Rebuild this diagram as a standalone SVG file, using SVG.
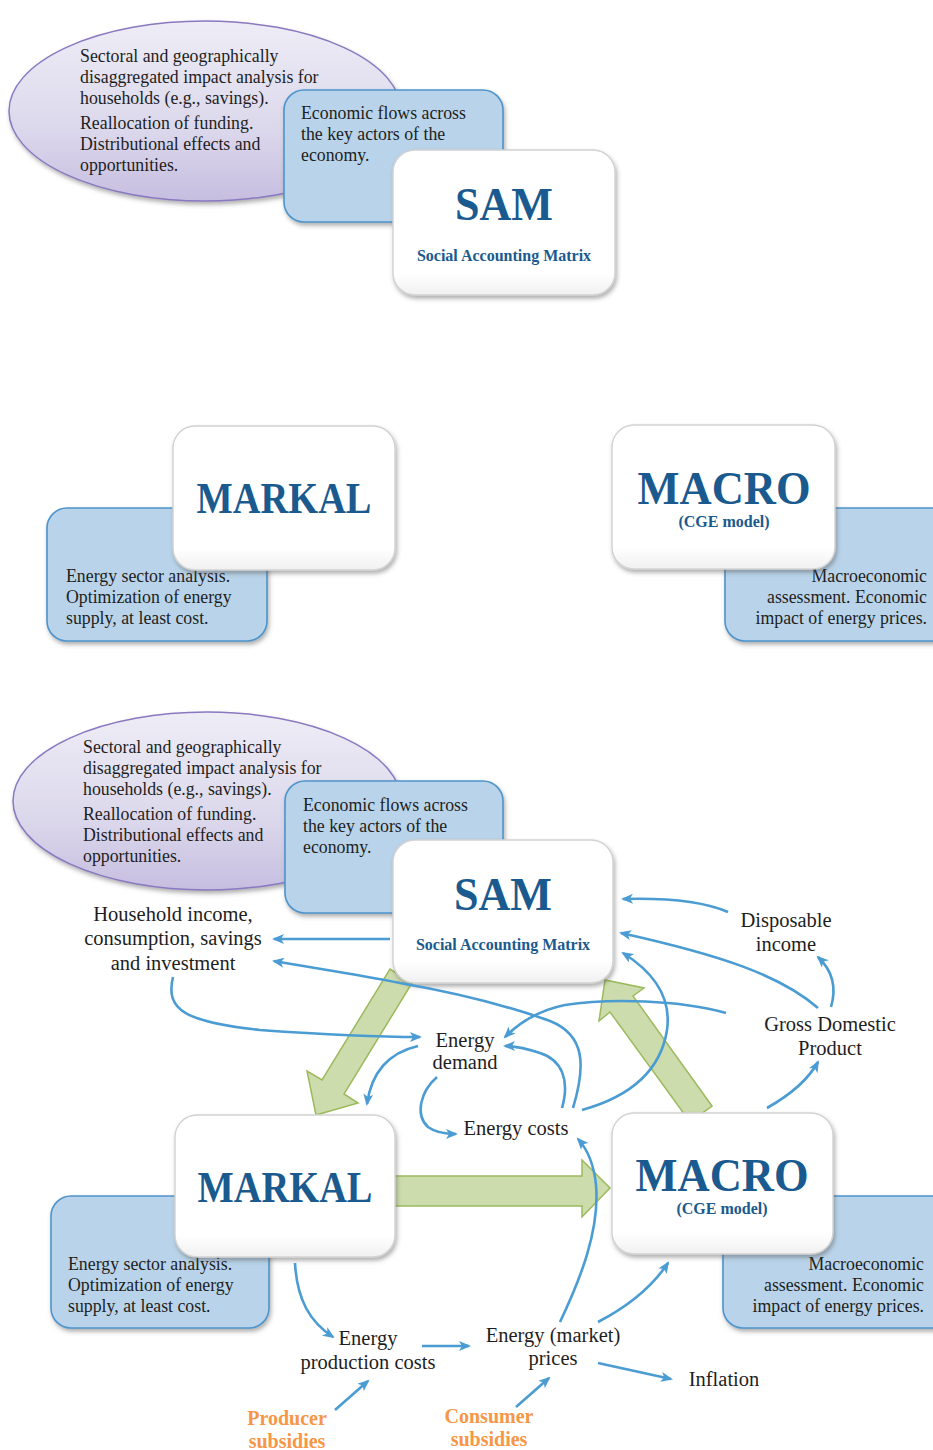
<svg xmlns="http://www.w3.org/2000/svg" width="933" height="1450" viewBox="0 0 933 1450">
  <defs>
    <linearGradient id="ellFill" x1="0" y1="0" x2="0" y2="1">
      <stop offset="0" stop-color="#eeedf6"/>
      <stop offset="0.6" stop-color="#dcd8ec"/>
      <stop offset="1" stop-color="#c6bee0"/>
    </linearGradient>
    <linearGradient id="boxFill" x1="0" y1="0" x2="0" y2="1">
      <stop offset="0" stop-color="#ffffff"/>
      <stop offset="0.85" stop-color="#ffffff"/>
      <stop offset="1" stop-color="#f0f0f0"/>
    </linearGradient>
    <filter id="shadow" x="-10%" y="-10%" width="125%" height="130%">
      <feDropShadow dx="1.5" dy="3" stdDeviation="2" flood-color="#555" flood-opacity="0.45"/>
    </filter>
    <marker id="arr" viewBox="0 0 12 10" refX="10" refY="5" markerWidth="13" markerHeight="10" markerUnits="userSpaceOnUse" orient="auto">
      <path d="M0,0 L12,5 L0,10 L3,5 Z" fill="#4a9cd3"/>
    </marker>
    <style>
      .ell { fill: url(#ellFill); stroke: #8a79c0; stroke-width: 1.5; filter: url(#shadow); }
      .note { fill: #b9d4ea; stroke: #4d94cc; stroke-width: 1.6; filter: url(#shadow); }
      .model { fill: url(#boxFill); stroke: #d2d2d2; stroke-width: 1.4; filter: url(#shadow); }
      .txt { font-family: "Liberation Serif", "Times New Roman", serif; font-size: 17.8px; fill: #1e1e1e; }
      .lbl { font-family: "Liberation Serif", "Times New Roman", serif; font-size: 20.5px; fill: #1e1e1e; text-anchor: middle; }
      .title { font-family: "Liberation Serif", "Times New Roman", serif; font-weight: bold; fill: #1a5a8e; text-anchor: middle; }
      .sub { font-family: "Liberation Serif", "Times New Roman", serif; font-weight: bold; font-size: 16px; fill: #1a5a8e; text-anchor: middle; }
      .subsidy { font-family: "Liberation Serif", "Times New Roman", serif; font-weight: bold; font-size: 20px; fill: #f79646; text-anchor: middle; }
      .big { fill: #cddcad; stroke: #9cba5c; stroke-width: 1.5; }
      .flow { fill: none; stroke: #4a9cd3; stroke-width: 2.6; marker-end: url(#arr); }
    </style>
  </defs>

  <!-- ===== Upper panel: SAM on its own ===== -->
  <g id="sam-scope-top">
    <ellipse class="ell" cx="205" cy="111" rx="196" ry="90"/>
    <text class="txt" x="80" y="62">Sectoral and geographically</text>
    <text class="txt" x="80" y="83">disaggregated impact analysis for</text>
    <text class="txt" x="80" y="104">households (e.g., savings).</text>
    <text class="txt" x="80" y="129">Reallocation of funding.</text>
    <text class="txt" x="80" y="150">Distributional effects and</text>
    <text class="txt" x="80" y="171">opportunities.</text>
  </g>
  <g id="sam-note-top">
    <rect class="note" x="284" y="90" width="219" height="132" rx="20"/>
    <text class="txt" x="301" y="119">Economic flows across</text>
    <text class="txt" x="301" y="140">the key actors of the</text>
    <text class="txt" x="301" y="161">economy.</text>
  </g>
  <g id="sam-top">
    <rect class="model" x="393" y="150" width="222" height="145" rx="22"/>
    <text class="title" x="504" y="220" font-size="46" textLength="98" lengthAdjust="spacingAndGlyphs">SAM</text>
    <text class="sub" x="504" y="261">Social Accounting Matrix</text>
  </g>

  <!-- ===== Middle panel: MARKAL and MACRO ===== -->
  <g id="markal-note-mid">
    <rect class="note" x="47" y="508" width="220" height="133" rx="20"/>
    <text class="txt" x="66" y="582">Energy sector analysis.</text>
    <text class="txt" x="66" y="603">Optimization of energy</text>
    <text class="txt" x="66" y="624">supply, at least cost.</text>
  </g>
  <g id="markal-mid">
    <rect class="model" x="173" y="426" width="222" height="144" rx="22"/>
    <text class="title" x="284" y="513" font-size="44" textLength="175" lengthAdjust="spacingAndGlyphs">MARKAL</text>
  </g>
  <g id="macro-note-mid">
    <rect class="note" x="725" y="508" width="230" height="133" rx="20"/>
    <text class="txt" x="927" y="582" text-anchor="end">Macroeconomic</text>
    <text class="txt" x="927" y="603" text-anchor="end">assessment. Economic</text>
    <text class="txt" x="927" y="624" text-anchor="end">impact of energy prices.</text>
  </g>
  <g id="macro-mid">
    <rect class="model" x="612" y="425" width="223" height="144" rx="22"/>
    <text class="title" x="724" y="504" font-size="46" textLength="173" lengthAdjust="spacingAndGlyphs">MACRO</text>
    <text class="sub" x="724" y="527">(CGE model)</text>
  </g>

  <!-- ===== Lower panel: linked models ===== -->
  <g id="sam-scope">
    <ellipse class="ell" cx="207" cy="801" rx="194" ry="89"/>
    <text class="txt" x="83" y="753">Sectoral and geographically</text>
    <text class="txt" x="83" y="774">disaggregated impact analysis for</text>
    <text class="txt" x="83" y="795">households (e.g., savings).</text>
    <text class="txt" x="83" y="820">Reallocation of funding.</text>
    <text class="txt" x="83" y="841">Distributional effects and</text>
    <text class="txt" x="83" y="862">opportunities.</text>
  </g>
  <g id="sam-note">
    <rect class="note" x="285" y="781" width="218" height="132" rx="20"/>
    <text class="txt" x="303" y="811">Economic flows across</text>
    <text class="txt" x="303" y="832">the key actors of the</text>
    <text class="txt" x="303" y="853">economy.</text>
  </g>
  <g id="markal-note">
    <rect class="note" x="51" y="1196" width="218" height="132" rx="20"/>
    <text class="txt" x="68" y="1270">Energy sector analysis.</text>
    <text class="txt" x="68" y="1291">Optimization of energy</text>
    <text class="txt" x="68" y="1312">supply, at least cost.</text>
  </g>
  <g id="macro-note">
    <rect class="note" x="723" y="1196" width="232" height="132" rx="20"/>
    <text class="txt" x="924" y="1270" text-anchor="end">Macroeconomic</text>
    <text class="txt" x="924" y="1291" text-anchor="end">assessment. Economic</text>
    <text class="txt" x="924" y="1312" text-anchor="end">impact of energy prices.</text>
  </g>

  <!-- broad model-to-model links -->
  <g id="model-links">
    <polygon class="big" points="412,983 344,1094 358,1103 316,1115 307,1071 322,1080 390,969"/>
    <polygon class="big" points="385,1176 582,1176 582,1160 610,1188 582,1217 582,1206 385,1206"/>
    <polygon class="big" points="712,1106 633,996 644,988 605,980 599,1021 610,1012 690,1122"/>
  </g>

  <g id="sam">
    <rect class="model" x="393" y="840" width="220" height="143" rx="22"/>
    <text class="title" x="503" y="910" font-size="46" textLength="98" lengthAdjust="spacingAndGlyphs">SAM</text>
    <text class="sub" x="503" y="950">Social Accounting Matrix</text>
  </g>
  <g id="markal">
    <rect class="model" x="175" y="1115" width="220" height="142" rx="22"/>
    <text class="title" x="285" y="1202" font-size="44" textLength="175" lengthAdjust="spacingAndGlyphs">MARKAL</text>
  </g>
  <g id="macro">
    <rect class="model" x="612" y="1113" width="221" height="141" rx="22"/>
    <text class="title" x="722" y="1191" font-size="46" textLength="173" lengthAdjust="spacingAndGlyphs">MACRO</text>
    <text class="sub" x="722" y="1214">(CGE model)</text>
  </g>

  <!-- variables -->
  <g id="household">
    <text class="lbl" x="173" y="921">Household income,</text>
    <text class="lbl" x="173" y="945">consumption, savings</text>
    <text class="lbl" x="173" y="970">and investment</text>
  </g>
  <g id="disposable-income">
    <text class="lbl" x="786" y="927">Disposable</text>
    <text class="lbl" x="786" y="951">income</text>
  </g>
  <g id="gdp">
    <text class="lbl" x="830" y="1031">Gross Domestic</text>
    <text class="lbl" x="830" y="1055">Product</text>
  </g>
  <g id="energy-demand">
    <text class="lbl" x="465" y="1047">Energy</text>
    <text class="lbl" x="465" y="1069">demand</text>
  </g>
  <g id="energy-costs">
    <text class="lbl" x="516" y="1135">Energy costs</text>
  </g>
  <g id="energy-production-costs">
    <text class="lbl" x="368" y="1345">Energy</text>
    <text class="lbl" x="368" y="1369">production costs</text>
  </g>
  <g id="energy-prices">
    <text class="lbl" x="553" y="1342">Energy (market)</text>
    <text class="lbl" x="553" y="1365">prices</text>
  </g>
  <g id="inflation">
    <text class="lbl" x="724" y="1386">Inflation</text>
  </g>
  <g id="producer-subsidies">
    <text class="subsidy" x="287" y="1425">Producer</text>
    <text class="subsidy" x="287" y="1448">subsidies</text>
  </g>
  <g id="consumer-subsidies">
    <text class="subsidy" x="489" y="1423">Consumer</text>
    <text class="subsidy" x="489" y="1446">subsidies</text>
  </g>

  <!-- influence connectors -->
  <g id="connectors">
    <path class="flow" d="M390,939 L274,939"/>
    <path class="flow" d="M573,1108 C586,1065 585,1035 550,1021 C500,1003 440,990 400,983 C360,975 320,969 274,961"/>
    <path class="flow" d="M173,977 C165,1010 185,1022 260,1030 C330,1035 380,1037 420,1037"/>
    <path class="flow" d="M418,1046 C392,1052 372,1068 367,1104"/>
    <path class="flow" d="M437,1077 C420,1092 415,1115 428,1127 C436,1133 446,1134 456,1134"/>
    <path class="flow" d="M562,1108 C570,1080 562,1060 540,1053 C525,1048 515,1046 505,1046"/>
    <path class="flow" d="M726,1013 C680,1000 610,998 565,1005 C540,1010 520,1022 505,1037"/>
    <path class="flow" d="M582,1110 C625,1098 660,1075 667,1030 C672,995 650,970 623,953"/>
    <path class="flow" d="M728,912 C700,900 660,898 623,899"/>
    <path class="flow" d="M818,1008 C780,975 720,955 621,933"/>
    <path class="flow" d="M831,1007 C836,990 834,972 818,957"/>
    <path class="flow" d="M767,1108 C790,1095 808,1080 818,1062"/>
    <path class="flow" d="M560,1322 C580,1280 600,1230 596,1185 C594,1165 588,1150 578,1139"/>
    <path class="flow" d="M598,1322 C625,1308 650,1290 668,1263"/>
    <path class="flow" d="M295,1263 C297,1300 310,1322 333,1337"/>
    <path class="flow" d="M422,1346 L469,1346"/>
    <path class="flow" d="M598,1363 L671,1379"/>
    <path class="flow" d="M335,1410 L368,1381"/>
    <path class="flow" d="M516,1407 L549,1378"/>
  </g>
</svg>
